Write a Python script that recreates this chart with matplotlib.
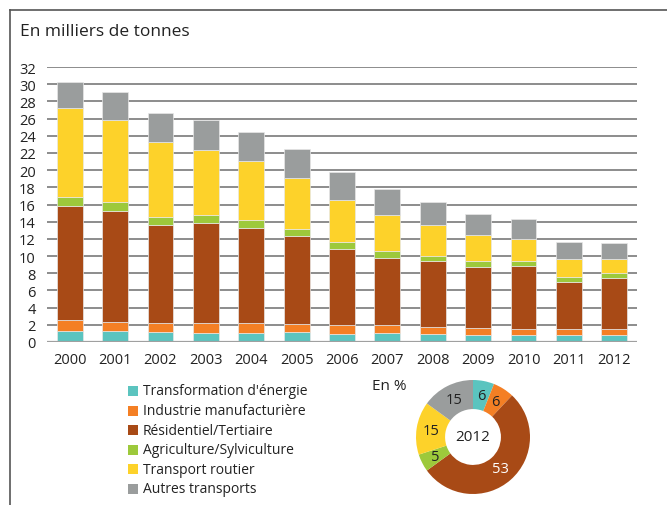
import numpy as np
import matplotlib.pyplot as plt
from matplotlib.lines import Line2D
from matplotlib.patches import Rectangle

plt.rcParams['font.family'] = ['Open Sans', 'DejaVu Sans']

years = ['2000', '2001', '2002', '2003', '2004', '2005', '2006',
         '2007', '2008', '2009', '2010', '2011', '2012']
categories = ["Transformation d'énergie", 'Industrie manufacturière',
              'Résidentiel/Tertiaire', 'Agriculture/Sylviculture',
              'Transport routier', 'Autres transports']
colors = ['#5bc4bf', '#f47f24', '#a84a16', '#9dc93b', '#fdd22a', '#9a9d9d']

# thousands of tonnes, one list per sector
energie = [1.28, 1.28, 1.17, 1.05, 1.05, 1.17, 0.89, 1.05, 0.89, 0.78, 0.78, 0.78, 0.78]
industrie = [1.25, 1.09, 1.09, 1.21, 1.21, 0.93, 1.05, 0.89, 0.82, 0.81, 0.70, 0.70, 0.70]
residentiel = [13.26, 12.91, 11.31, 11.62, 11.04, 10.26, 8.91, 7.82, 7.70, 7.16, 7.38, 5.56, 5.99]
agriculture = [1.05, 1.01, 1.01, 0.89, 0.93, 0.82, 0.78, 0.82, 0.58, 0.62, 0.55, 0.50, 0.54]
routier = [10.36, 9.57, 8.71, 7.59, 6.80, 5.91, 4.93, 4.19, 3.62, 3.03, 2.57, 2.14, 1.67]
autres = [3.00, 3.18, 3.38, 3.42, 3.43, 3.38, 3.27, 3.00, 2.72, 2.49, 2.29, 1.95, 1.79]

share_2012 = [6, 6, 53, 5, 15, 15]
share_text_colors = ['#222222', '#222222', 'white', '#222222', '#222222', '#222222']

W, H = 667, 506
fig = plt.figure(figsize=(W / 100, H / 100), dpi=100)

# frame lines
fig.add_artist(Line2D([10 / W, 10 / W], [0, 1 - 11 / H], color='#555555', lw=1.2))
fig.add_artist(Line2D([10 / W, 1], [1 - 11 / H, 1 - 11 / H], color='#555555', lw=1.2))

fig.text(20 / W, 1 - 32 / H, 'En milliers de tonnes', fontsize=12.5,
         color='#222222', va='center', ha='left')

# stacked bars
ax = fig.add_axes([47 / W, 1 - 343 / H, 590 / W, 275 / H])
x = np.arange(len(years))
series = [energie, industrie, residentiel, agriculture, routier, autres]
bottom = np.zeros(len(years))
for vals, c in zip(series, colors):
    ax.bar(x, vals, bottom=bottom, width=0.57, color=c,
           edgecolor='#e8e8e8', linewidth=0.5, zorder=3)
    bottom += np.array(vals)

ax.set_xlim(-0.5, 12.5)
ax.set_ylim(0, 32)
ax.set_yticks(range(0, 33, 2))
ax.set_xticks(x)
ax.set_xticklabels(years)
ax.grid(axis='y', color='#8c8c8c', lw=1.4, zorder=0)
for s in ax.spines.values():
    s.set_visible(False)
ax.axhline(0, color='#a0a0a0', lw=1.6, zorder=4)
ax.tick_params(length=0, labelsize=10.5, colors='#222222')
ax.tick_params(axis='y', pad=8)
ax.tick_params(axis='x', pad=7)

# legend
lx, ly0, dy = 128, 392, 19.6
for i, (lab, c) in enumerate(zip(categories, colors)):
    yy = ly0 + i * dy
    fig.add_artist(Rectangle((lx / W, 1 - (yy + 5) / H), 10 / W, 10 / H,
                             facecolor=c, edgecolor='none', transform=fig.transFigure))
    fig.text((lx + 15) / W, 1 - yy / H, lab, fontsize=10, color='#222222',
             va='center', ha='left')

# donut for 2012
fig.text(372 / W, 1 - 387 / H, 'En %', fontsize=11, color='#222222',
         va='center', ha='left')
cx, cy, r = 473, 438, 57
pax = fig.add_axes([(cx - r) / W, 1 - (cy + r) / H, 2 * r / W, 2 * r / H])
wedges, _ = pax.pie(share_2012, colors=colors, startangle=90, counterclock=False,
                    radius=1, wedgeprops=dict(width=0.51, edgecolor='none'))
for w, v, tc in zip(wedges, share_2012, share_text_colors):
    ang = np.deg2rad((w.theta1 + w.theta2) / 2)
    pax.text(0.74 * np.cos(ang), 0.74 * np.sin(ang), str(v), ha='center',
             va='center', fontsize=10.5, color=tc)
pax.text(0, 0, '2012', ha='center', va='center', fontsize=11, color='#222222')
pax.set_xlim(-1, 1)
pax.set_ylim(-1, 1)
pax.set_aspect('equal')
pax.axis('off')

fig.savefig('out.png', dpi=100)
